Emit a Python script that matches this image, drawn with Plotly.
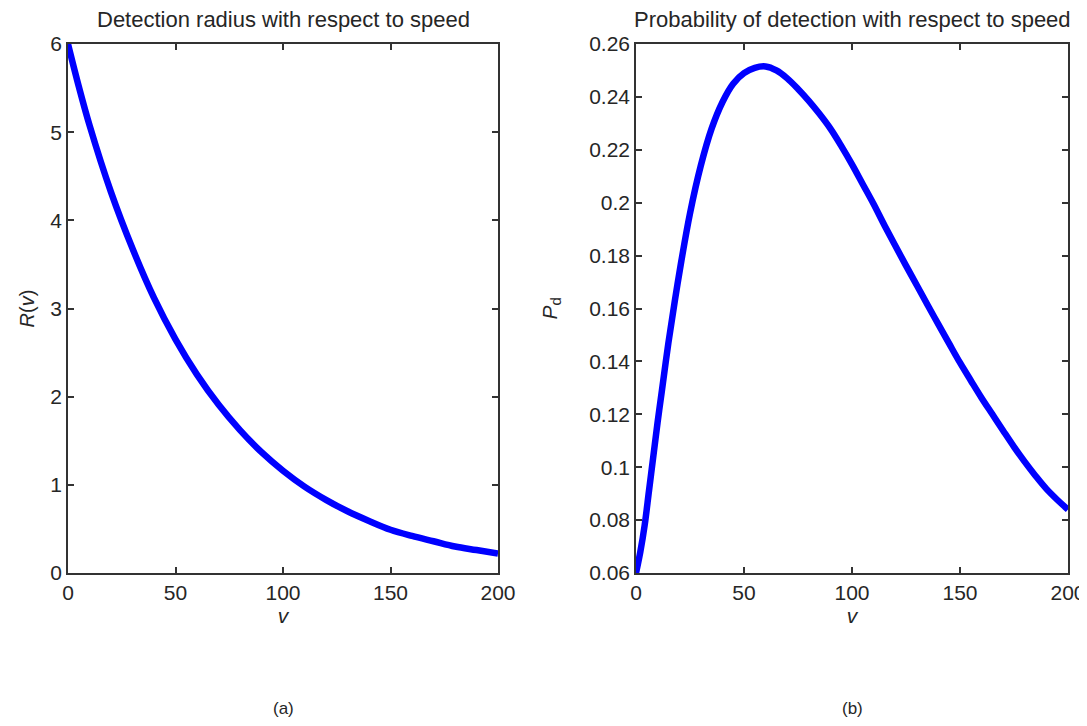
import plotly.graph_objects as go

# (a) detection radius vs speed
speed_a = [0, 5, 10, 20, 30, 40, 50, 60, 70, 80, 90, 100, 110, 120, 130,
           140, 150, 160, 170, 180, 190, 200]
radius = [6.0, 5.52, 5.08, 4.32, 3.68, 3.12, 2.65, 2.25, 1.91, 1.62, 1.37, 1.16,
          0.98, 0.83, 0.7, 0.59, 0.49, 0.42, 0.36, 0.3, 0.26, 0.22]

# (b) probability of detection vs speed
speed_b = [0, 2, 4, 6, 8, 10, 12, 15, 18, 21, 25, 30, 35, 40, 45, 50, 55, 60,
           65, 70, 75, 80, 85, 90, 95, 100, 105, 110, 115, 120, 125, 130, 135,
           140, 145, 150, 155, 160, 165, 170, 175, 180, 185, 190, 195, 200]
prob = [0.06, 0.068, 0.078, 0.091, 0.104, 0.117, 0.129, 0.147, 0.163, 0.178,
        0.196, 0.214, 0.228, 0.238, 0.245, 0.249, 0.251, 0.2515, 0.25, 0.247,
        0.243, 0.2385, 0.2335, 0.228, 0.2215, 0.2145, 0.207, 0.1995, 0.1915,
        0.1838, 0.1762, 0.1688, 0.1613, 0.154, 0.1467, 0.1395, 0.1328,
        0.1262, 0.12, 0.1138, 0.1077, 0.102, 0.0967, 0.0918, 0.0877, 0.084]

x_ticks = [0, 50, 100, 150, 200]
ya_ticks = [0, 1, 2, 3, 4, 5, 6]
yb_ticks = [0.06, 0.08, 0.1, 0.12, 0.14, 0.16, 0.18, 0.2, 0.22, 0.24, 0.26]
yb_text = ["0.06", "0.08", "0.1", "0.12", "0.14", "0.16", "0.18", "0.2",
           "0.22", "0.24", "0.26"]

# the page body keeps its default 8px margin, so the figure is drawn 8px in
PAGE_OFF = 8
W, H = 1087 - PAGE_OFF, 726 - 2 * PAGE_OFF
FONT = "Liberation Sans, Arial, sans-serif"
INK = "#262626"
BLUE = "#0000ff"


def px_x(x):
    return (x - PAGE_OFF) / W


def px_y(y):
    return 1 - (y - PAGE_OFF) / H


fig = go.Figure()
fig.add_trace(go.Scatter(x=speed_a, y=radius, mode="lines", xaxis="x", yaxis="y",
                         line=dict(color=BLUE, width=6.5, shape="spline"),
                         showlegend=False))
fig.add_trace(go.Scatter(x=speed_b, y=prob, mode="lines", xaxis="x2", yaxis="y2",
                         line=dict(color=BLUE, width=6.5, shape="spline"),
                         showlegend=False))

# page-pixel boxes of the two panels
left_px = (68, 498)
right_px = (636, 1068)
top_px, bot_px = 44, 573
ydom = [px_y(bot_px), px_y(top_px)]

axis_common = dict(
    showline=True, linecolor="#333333", linewidth=1.5, mirror="ticks",
    ticks="inside", ticklen=6, tickwidth=1.5, tickcolor="#333333",
    showgrid=False, zeroline=False, automargin=False, ticklabeloverflow="allow",
    tickfont=dict(family=FONT, size=21, color=INK),
)

fig.update_layout(
    width=W, height=H,
    margin=dict(l=0, r=0, t=0, b=0),
    paper_bgcolor="white", plot_bgcolor="white",
    font=dict(family=FONT, color=INK),
    xaxis=dict(domain=[px_x(left_px[0]), px_x(left_px[1])], range=[0, 200],
               tickvals=x_ticks, anchor="y",
               title=dict(text="<i>v</i>", font=dict(size=21), standoff=2),
               **axis_common),
    yaxis=dict(domain=ydom, range=[0, 6], tickvals=ya_ticks, anchor="x",
               title=dict(text="<i>R</i>(<i>v</i>)", font=dict(size=20), standoff=10),
               **axis_common),
    xaxis2=dict(domain=[px_x(right_px[0]), px_x(right_px[1])], range=[0, 200],
                tickvals=x_ticks, anchor="y2",
                title=dict(text="<i>v</i>", font=dict(size=21), standoff=2),
                **axis_common),
    yaxis2=dict(domain=ydom, range=[0.06, 0.26], tickvals=yb_ticks,
                ticktext=yb_text, anchor="x2",
                title=dict(text="<i>P</i><sub>d</sub>", font=dict(size=21), standoff=26),
                **axis_common),
)

titles = [("Detection radius with respect to speed", left_px),
          ("Probability of detection with respect to speed", right_px)]
for text, (x0, x1) in titles:
    fig.add_annotation(text=text, xref="paper", yref="paper",
                       x=px_x((x0 + x1) / 2), y=px_y(20), xanchor="center",
                       yanchor="middle", showarrow=False,
                       font=dict(family=FONT, size=22, color=INK))

for text, (x0, x1) in [("(a)", left_px), ("(b)", right_px)]:
    fig.add_annotation(text=text, xref="paper", yref="paper",
                       x=px_x((x0 + x1) / 2), y=px_y(708), xanchor="center",
                       yanchor="middle", showarrow=False,
                       font=dict(family=FONT, size=17, color=INK))

fig.write_html("out.html")
